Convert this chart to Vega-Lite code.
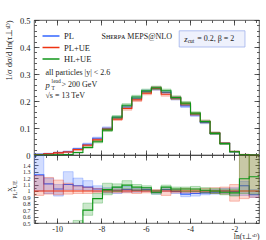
{
"$schema": "https://vega.github.io/schema/vega-lite/v6.json",
"padding": {"left": 3, "top": 15, "right": 8, "bottom": 2},
"spacing": 0,
"bounds": "flush",
"config": {
  "view": {"stroke": "#333", "strokeWidth": 0.8},
  "font": "Liberation Serif",
  "axis": {"labelFont": "Liberation Serif", "titleFont": "Liberation Serif", "labelFontSize": 8.5, "titleFontSize": 8.5, "labelColor": "#222", "titleColor": "#222", "titleFontWeight": "normal", "grid": false, "domain": false, "tickColor": "#333", "tickWidth": 0.8, "labelOverlap": false, "labelBound": false}
},
"datasets": {
"main": [
{"s":"PL","a":-11.045,"b":-10.603,"v":0.003,"lo":0.001,"hi":0.005},
{"s":"PL","a":-10.603,"b":-10.162,"v":0.005,"lo":0.003,"hi":0.007},
{"s":"PL","a":-10.162,"b":-9.720,"v":0.009,"lo":0.007,"hi":0.011},
{"s":"PL","a":-9.720,"b":-9.278,"v":0.012,"lo":0.010,"hi":0.015},
{"s":"PL","a":-9.278,"b":-8.837,"v":0.023,"lo":0.020,"hi":0.026},
{"s":"PL","a":-8.837,"b":-8.395,"v":0.040,"lo":0.036,"hi":0.044},
{"s":"PL","a":-8.395,"b":-7.953,"v":0.062,"lo":0.058,"hi":0.066},
{"s":"PL","a":-7.953,"b":-7.512,"v":0.099,"lo":0.094,"hi":0.104},
{"s":"PL","a":-7.512,"b":-7.070,"v":0.138,"lo":0.133,"hi":0.143},
{"s":"PL","a":-7.070,"b":-6.629,"v":0.178,"lo":0.172,"hi":0.184},
{"s":"PL","a":-6.629,"b":-6.187,"v":0.210,"lo":0.204,"hi":0.216},
{"s":"PL","a":-6.187,"b":-5.745,"v":0.235,"lo":0.229,"hi":0.241},
{"s":"PL","a":-5.745,"b":-5.304,"v":0.246,"lo":0.240,"hi":0.252},
{"s":"PL","a":-5.304,"b":-4.862,"v":0.232,"lo":0.226,"hi":0.238},
{"s":"PL","a":-4.862,"b":-4.420,"v":0.210,"lo":0.204,"hi":0.216},
{"s":"PL","a":-4.420,"b":-3.979,"v":0.182,"lo":0.176,"hi":0.188},
{"s":"PL","a":-3.979,"b":-3.537,"v":0.148,"lo":0.143,"hi":0.153},
{"s":"PL","a":-3.537,"b":-3.095,"v":0.121,"lo":0.116,"hi":0.126},
{"s":"PL","a":-3.095,"b":-2.654,"v":0.080,"lo":0.076,"hi":0.084},
{"s":"PL","a":-2.654,"b":-2.212,"v":0.043,"lo":0.040,"hi":0.046},
{"s":"PL","a":-2.212,"b":-1.770,"v":0.012,"lo":0.010,"hi":0.014},
{"s":"PL","a":-1.770,"b":-1.329,"v":0.001,"lo":0.000,"hi":0.002},
{"s":"PL","a":-1.329,"b":-0.887,"v":0.000,"lo":0.000,"hi":0.000},
{"s":"PL","a":-0.887,"v":0.000},
{"s":"PL+UE","a":-11.045,"b":-10.603,"v":0.002,"lo":0.001,"hi":0.003},
{"s":"PL+UE","a":-10.603,"b":-10.162,"v":0.004,"lo":0.003,"hi":0.005},
{"s":"PL+UE","a":-10.162,"b":-9.720,"v":0.008,"lo":0.006,"hi":0.010},
{"s":"PL+UE","a":-9.720,"b":-9.278,"v":0.011,"lo":0.009,"hi":0.013},
{"s":"PL+UE","a":-9.278,"b":-8.837,"v":0.020,"lo":0.018,"hi":0.022},
{"s":"PL+UE","a":-8.837,"b":-8.395,"v":0.036,"lo":0.033,"hi":0.039},
{"s":"PL+UE","a":-8.395,"b":-7.953,"v":0.056,"lo":0.052,"hi":0.060},
{"s":"PL+UE","a":-7.953,"b":-7.512,"v":0.095,"lo":0.090,"hi":0.100},
{"s":"PL+UE","a":-7.512,"b":-7.070,"v":0.133,"lo":0.128,"hi":0.138},
{"s":"PL+UE","a":-7.070,"b":-6.629,"v":0.172,"lo":0.166,"hi":0.178},
{"s":"PL+UE","a":-6.629,"b":-6.187,"v":0.204,"lo":0.198,"hi":0.210},
{"s":"PL+UE","a":-6.187,"b":-5.745,"v":0.229,"lo":0.223,"hi":0.235},
{"s":"PL+UE","a":-5.745,"b":-5.304,"v":0.247,"lo":0.241,"hi":0.253},
{"s":"PL+UE","a":-5.304,"b":-4.862,"v":0.225,"lo":0.218,"hi":0.232},
{"s":"PL+UE","a":-4.862,"b":-4.420,"v":0.211,"lo":0.205,"hi":0.217},
{"s":"PL+UE","a":-4.420,"b":-3.979,"v":0.189,"lo":0.183,"hi":0.195},
{"s":"PL+UE","a":-3.979,"b":-3.537,"v":0.152,"lo":0.147,"hi":0.157},
{"s":"PL+UE","a":-3.537,"b":-3.095,"v":0.124,"lo":0.119,"hi":0.129},
{"s":"PL+UE","a":-3.095,"b":-2.654,"v":0.081,"lo":0.077,"hi":0.085},
{"s":"PL+UE","a":-2.654,"b":-2.212,"v":0.043,"lo":0.040,"hi":0.046},
{"s":"PL+UE","a":-2.212,"b":-1.770,"v":0.013,"lo":0.011,"hi":0.015},
{"s":"PL+UE","a":-1.770,"b":-1.329,"v":0.002,"lo":0.001,"hi":0.003},
{"s":"PL+UE","a":-1.329,"b":-0.887,"v":0.000,"lo":0.000,"hi":0.000},
{"s":"PL+UE","a":-0.887,"v":0.000},
{"s":"HL+UE","a":-11.045,"b":-10.603,"v":0.000,"lo":0.000,"hi":0.000},
{"s":"HL+UE","a":-10.603,"b":-10.162,"v":0.000,"lo":0.000,"hi":0.000},
{"s":"HL+UE","a":-10.162,"b":-9.720,"v":0.001,"lo":0.000,"hi":0.002},
{"s":"HL+UE","a":-9.720,"b":-9.278,"v":0.002,"lo":0.001,"hi":0.003},
{"s":"HL+UE","a":-9.278,"b":-8.837,"v":0.009,"lo":0.007,"hi":0.011},
{"s":"HL+UE","a":-8.837,"b":-8.395,"v":0.028,"lo":0.025,"hi":0.031},
{"s":"HL+UE","a":-8.395,"b":-7.953,"v":0.049,"lo":0.045,"hi":0.053},
{"s":"HL+UE","a":-7.953,"b":-7.512,"v":0.092,"lo":0.087,"hi":0.097},
{"s":"HL+UE","a":-7.512,"b":-7.070,"v":0.141,"lo":0.136,"hi":0.146},
{"s":"HL+UE","a":-7.070,"b":-6.629,"v":0.184,"lo":0.178,"hi":0.190},
{"s":"HL+UE","a":-6.629,"b":-6.187,"v":0.215,"lo":0.209,"hi":0.221},
{"s":"HL+UE","a":-6.187,"b":-5.745,"v":0.238,"lo":0.232,"hi":0.244},
{"s":"HL+UE","a":-5.745,"b":-5.304,"v":0.249,"lo":0.243,"hi":0.255},
{"s":"HL+UE","a":-5.304,"b":-4.862,"v":0.238,"lo":0.232,"hi":0.244},
{"s":"HL+UE","a":-4.862,"b":-4.420,"v":0.213,"lo":0.207,"hi":0.219},
{"s":"HL+UE","a":-4.420,"b":-3.979,"v":0.192,"lo":0.186,"hi":0.198},
{"s":"HL+UE","a":-3.979,"b":-3.537,"v":0.155,"lo":0.150,"hi":0.160},
{"s":"HL+UE","a":-3.537,"b":-3.095,"v":0.124,"lo":0.119,"hi":0.129},
{"s":"HL+UE","a":-3.095,"b":-2.654,"v":0.080,"lo":0.076,"hi":0.084},
{"s":"HL+UE","a":-2.654,"b":-2.212,"v":0.042,"lo":0.039,"hi":0.045},
{"s":"HL+UE","a":-2.212,"b":-1.770,"v":0.012,"lo":0.010,"hi":0.014},
{"s":"HL+UE","a":-1.770,"b":-1.329,"v":0.001,"lo":0.000,"hi":0.002},
{"s":"HL+UE","a":-1.329,"b":-0.887,"v":0.000,"lo":0.000,"hi":0.000},
{"s":"HL+UE","a":-0.887,"v":0.000}
],
"ratio": [
{"s":"PL","a":-11.045,"b":-10.603,"v":1.25,"lo":1.0,"hi":1.7},
{"s":"PL","a":-10.603,"b":-10.162,"v":1.11,"lo":0.96,"hi":1.2},
{"s":"PL","a":-10.162,"b":-9.720,"v":1.03,"lo":0.92,"hi":1.1},
{"s":"PL","a":-9.720,"b":-9.278,"v":1.1,"lo":1.02,"hi":1.3},
{"s":"PL","a":-9.278,"b":-8.837,"v":1.08,"lo":1.02,"hi":1.2},
{"s":"PL","a":-8.837,"b":-8.395,"v":1.06,"lo":1.01,"hi":1.16},
{"s":"PL","a":-8.395,"b":-7.953,"v":1.03,"lo":0.99,"hi":1.08},
{"s":"PL","a":-7.953,"b":-7.512,"v":1.01,"lo":0.97,"hi":1.05},
{"s":"PL","a":-7.512,"b":-7.070,"v":1.01,"lo":0.96,"hi":1.06},
{"s":"PL","a":-7.070,"b":-6.629,"v":1.02,"lo":0.98,"hi":1.07},
{"s":"PL","a":-6.629,"b":-6.187,"v":1.01,"lo":0.98,"hi":1.04},
{"s":"PL","a":-6.187,"b":-5.745,"v":1.02,"lo":0.99,"hi":1.05},
{"s":"PL","a":-5.745,"b":-5.304,"v":0.98,"lo":0.95,"hi":1.01},
{"s":"PL","a":-5.304,"b":-4.862,"v":1.02,"lo":0.99,"hi":1.05},
{"s":"PL","a":-4.862,"b":-4.420,"v":0.99,"lo":0.96,"hi":1.02},
{"s":"PL","a":-4.420,"b":-3.979,"v":0.95,"lo":0.91,"hi":0.98},
{"s":"PL","a":-3.979,"b":-3.537,"v":0.96,"lo":0.92,"hi":0.99},
{"s":"PL","a":-3.537,"b":-3.095,"v":0.97,"lo":0.94,"hi":1.0},
{"s":"PL","a":-3.095,"b":-2.654,"v":0.98,"lo":0.95,"hi":1.02},
{"s":"PL","a":-2.654,"b":-2.212,"v":1.0,"lo":0.96,"hi":1.04},
{"s":"PL","a":-2.212,"b":-1.770,"v":0.99,"lo":0.93,"hi":1.05},
{"s":"PL","a":-1.770,"b":-1.329,"v":1.08,"lo":0.93,"hi":1.15},
{"s":"PL","a":-1.329,"b":-0.887,"v":0.94,"lo":0.9,"hi":1.02},
{"s":"PL","a":-0.887,"v":0.94},
{"s":"PL+UE","a":-11.045,"b":-10.603,"v":1,"lo":0.93,"hi":1.24},
{"s":"PL+UE","a":-10.603,"b":-10.162,"v":1,"lo":0.95,"hi":1.21},
{"s":"PL+UE","a":-10.162,"b":-9.720,"v":1,"lo":0.94,"hi":1.17},
{"s":"PL+UE","a":-9.720,"b":-9.278,"v":1,"lo":0.95,"hi":1.12},
{"s":"PL+UE","a":-9.278,"b":-8.837,"v":1,"lo":0.96,"hi":1.08},
{"s":"PL+UE","a":-8.837,"b":-8.395,"v":1,"lo":0.96,"hi":1.06},
{"s":"PL+UE","a":-8.395,"b":-7.953,"v":1,"lo":0.97,"hi":1.04},
{"s":"PL+UE","a":-7.953,"b":-7.512,"v":1,"lo":0.97,"hi":1.03},
{"s":"PL+UE","a":-7.512,"b":-7.070,"v":1,"lo":0.97,"hi":1.03},
{"s":"PL+UE","a":-7.070,"b":-6.629,"v":1,"lo":0.97,"hi":1.03},
{"s":"PL+UE","a":-6.629,"b":-6.187,"v":1,"lo":0.96,"hi":1.03},
{"s":"PL+UE","a":-6.187,"b":-5.745,"v":1,"lo":0.97,"hi":1.03},
{"s":"PL+UE","a":-5.745,"b":-5.304,"v":1,"lo":0.97,"hi":1.02},
{"s":"PL+UE","a":-5.304,"b":-4.862,"v":1,"lo":0.93,"hi":1.03},
{"s":"PL+UE","a":-4.862,"b":-4.420,"v":1,"lo":0.97,"hi":1.03},
{"s":"PL+UE","a":-4.420,"b":-3.979,"v":1,"lo":0.97,"hi":1.04},
{"s":"PL+UE","a":-3.979,"b":-3.537,"v":1,"lo":0.97,"hi":1.03},
{"s":"PL+UE","a":-3.537,"b":-3.095,"v":1,"lo":0.97,"hi":1.04},
{"s":"PL+UE","a":-3.095,"b":-2.654,"v":1,"lo":0.96,"hi":1.05},
{"s":"PL+UE","a":-2.654,"b":-2.212,"v":1,"lo":0.95,"hi":1.06},
{"s":"PL+UE","a":-2.212,"b":-1.770,"v":1,"lo":0.84,"hi":1.1},
{"s":"PL+UE","a":-1.770,"b":-1.329,"v":1,"lo":0.88,"hi":1.7},
{"s":"PL+UE","a":-1.329,"b":-0.887,"v":1,"lo":0.9,"hi":1.7},
{"s":"PL+UE","a":-0.887,"v":1},
{"s":"HL+UE","a":-11.045,"b":-10.603,"v":0},
{"s":"HL+UE","a":-10.603,"b":-10.162,"v":0},
{"s":"HL+UE","a":-10.162,"b":-9.720,"v":0},
{"s":"HL+UE","a":-9.720,"b":-9.278,"v":0},
{"s":"HL+UE","a":-9.278,"b":-8.837,"v":0.47,"lo":0.4,"hi":0.54},
{"s":"HL+UE","a":-8.837,"b":-8.395,"v":0.7,"lo":0.62,"hi":0.81},
{"s":"HL+UE","a":-8.395,"b":-7.953,"v":0.88,"lo":0.81,"hi":0.96},
{"s":"HL+UE","a":-7.953,"b":-7.512,"v":1.02,"lo":0.94,"hi":1.12},
{"s":"HL+UE","a":-7.512,"b":-7.070,"v":1.06,"lo":0.99,"hi":1.11},
{"s":"HL+UE","a":-7.070,"b":-6.629,"v":1.09,"lo":1.03,"hi":1.16},
{"s":"HL+UE","a":-6.629,"b":-6.187,"v":1.06,"lo":1.01,"hi":1.1},
{"s":"HL+UE","a":-6.187,"b":-5.745,"v":1.05,"lo":1.01,"hi":1.08},
{"s":"HL+UE","a":-5.745,"b":-5.304,"v":0.98,"lo":0.95,"hi":1.01},
{"s":"HL+UE","a":-5.304,"b":-4.862,"v":1.06,"lo":1.02,"hi":1.09},
{"s":"HL+UE","a":-4.862,"b":-4.420,"v":1.03,"lo":1.0,"hi":1.06},
{"s":"HL+UE","a":-4.420,"b":-3.979,"v":1.03,"lo":0.99,"hi":1.06},
{"s":"HL+UE","a":-3.979,"b":-3.537,"v":1.03,"lo":0.99,"hi":1.07},
{"s":"HL+UE","a":-3.537,"b":-3.095,"v":1.01,"lo":0.97,"hi":1.05},
{"s":"HL+UE","a":-3.095,"b":-2.654,"v":1.0,"lo":0.96,"hi":1.04},
{"s":"HL+UE","a":-2.654,"b":-2.212,"v":0.98,"lo":0.94,"hi":1.03},
{"s":"HL+UE","a":-2.212,"b":-1.770,"v":0.97,"lo":0.92,"hi":1.03},
{"s":"HL+UE","a":-1.770,"b":-1.329,"v":1.19,"lo":0.96,"hi":1.7},
{"s":"HL+UE","a":-1.329,"b":-0.887,"v":1.22,"lo":0.95,"hi":1.7},
{"s":"HL+UE","a":-0.887,"v":1.22}
]
},
"vconcat": [
{
  "width": 225, "height": 135,
  "data": {"name": "main"},
  "resolve": {"axis": {"x": "independent", "y": "independent"}},
  "layer": [
    {"transform": [{"filter": "datum.s==='PL' && isValid(datum.b)"}],
     "mark": {"type": "rect", "fill": "#3366ff", "stroke": "#3366ff", "fillOpacity": 0.22, "strokeOpacity": 0.4, "strokeWidth": 0.7},
     "encoding": {
       "x": {"field": "a", "type": "quantitative", "scale": {"domain": [-11.045, -0.887], "nice": false, "zero": false}, "axis": {"orient": "bottom", "values": [-10,-8,-6,-4,-2], "tickSize": -5, "labels": false, "title": null}},
       "x2": {"field": "b"},
       "y": {"field": "lo", "type": "quantitative", "scale": {"domain": [0, 0.5], "nice": false}, "axis": {"orient": "left", "values": [0,0.1,0.2,0.3,0.4,0.5], "ticks": false, "format": ".1~f", "labelPadding": 4, "title": "1/σ dσ/d ln(τ⊥ˢᴰ)", "titleAnchor": "end", "titlePadding": 6}},
       "y2": {"field": "hi"}
     }},
    {"transform": [{"filter": "datum.s==='PL'"}],
     "mark": {"type": "line", "interpolate": "step-after", "strokeWidth": 1.1},
     "encoding": {
       "x": {"field": "a", "type": "quantitative", "scale": {"domain": [-11.045, -0.887], "nice": false, "zero": false}, "axis": {"orient": "bottom", "values": [-11,-10.5,-10,-9.5,-9,-8.5,-8,-7.5,-7,-6.5,-6,-5.5,-5,-4.5,-4,-3.5,-3,-2.5,-2,-1.5,-1], "tickSize": -2.5, "labels": false, "title": null}},
       "y": {"field": "v", "type": "quantitative", "scale": {"domain": [0, 0.5], "nice": false}, "axis": {"orient": "left", "values": [0,0.1,0.2,0.3,0.4,0.5], "tickSize": -5, "labels": false, "title": null}},
       "color": {"field": "s", "type": "nominal", "scale": {"domain": ["PL","PL+UE","HL+UE"], "range": ["#3366ff","#ee3311","#109618"]}, "legend": {"orient": "none", "legendX": 12, "legendY": 11, "title": null, "symbolType": "M-2,0H2", "symbolSize": 72, "symbolStrokeWidth": 1.5, "labelFont": "Liberation Serif", "labelFontSize": 8.5, "labelColor": "#222", "rowPadding": 1.5, "labelOffset": 8}}
     }},
    {"transform": [{"filter": "datum.s==='PL+UE' && isValid(datum.b)"}],
     "mark": {"type": "rect", "fill": "#ee3311", "stroke": "#ee3311", "fillOpacity": 0.2, "strokeOpacity": 0.4, "strokeWidth": 0.7},
     "encoding": {
       "x": {"field": "a", "type": "quantitative", "scale": {"domain": [-11.045, -0.887], "nice": false, "zero": false}, "axis": {"orient": "top", "values": [-10,-8,-6,-4,-2], "tickSize": -5, "labels": false, "title": null}},
       "x2": {"field": "b"},
       "y": {"field": "lo", "type": "quantitative", "scale": {"domain": [0, 0.5], "nice": false}, "axis": {"orient": "left", "values": [0,0.02,0.04,0.06,0.08,0.1,0.12,0.14,0.16,0.18,0.2,0.22,0.24,0.26,0.28,0.3,0.32,0.34,0.36,0.38,0.4,0.42,0.44,0.46,0.48,0.5], "tickSize": -2.5, "labels": false, "title": null}},
       "y2": {"field": "hi"}
     }},
    {"transform": [{"filter": "datum.s==='PL+UE'"}],
     "mark": {"type": "line", "interpolate": "step-after", "strokeWidth": 1.1},
     "encoding": {
       "x": {"field": "a", "type": "quantitative", "scale": {"domain": [-11.045, -0.887], "nice": false, "zero": false}, "axis": {"orient": "top", "values": [-11,-10.5,-10,-9.5,-9,-8.5,-8,-7.5,-7,-6.5,-6,-5.5,-5,-4.5,-4,-3.5,-3,-2.5,-2,-1.5,-1], "tickSize": -2.5, "labels": false, "title": null}},
       "y": {"field": "v", "type": "quantitative", "scale": {"domain": [0, 0.5], "nice": false}, "axis": {"orient": "right", "values": [0,0.1,0.2,0.3,0.4,0.5], "tickSize": -5, "labels": false, "title": null}},
       "color": {"field": "s", "type": "nominal", "scale": {"domain": ["PL","PL+UE","HL+UE"], "range": ["#3366ff","#ee3311","#109618"]}, "legend": {"orient": "none", "legendX": 12, "legendY": 11, "title": null, "symbolType": "M-2,0H2", "symbolSize": 72, "symbolStrokeWidth": 1.5, "labelFont": "Liberation Serif", "labelFontSize": 8.5, "labelColor": "#222", "rowPadding": 1.5, "labelOffset": 8}}
     }},
    {"transform": [{"filter": "datum.s==='HL+UE' && isValid(datum.b)"}],
     "mark": {"type": "rect", "fill": "#109618", "stroke": "#109618", "fillOpacity": 0.22, "strokeOpacity": 0.4, "strokeWidth": 0.7},
     "encoding": {
       "x": {"field": "a", "type": "quantitative", "scale": {"domain": [-11.045, -0.887], "nice": false, "zero": false}, "axis": null},
       "x2": {"field": "b"},
       "y": {"field": "lo", "type": "quantitative", "scale": {"domain": [0, 0.5], "nice": false}, "axis": {"orient": "right", "values": [0,0.02,0.04,0.06,0.08,0.1,0.12,0.14,0.16,0.18,0.2,0.22,0.24,0.26,0.28,0.3,0.32,0.34,0.36,0.38,0.4,0.42,0.44,0.46,0.48,0.5], "tickSize": -2.5, "labels": false, "title": null}},
       "y2": {"field": "hi"}
     }},
    {"transform": [{"filter": "datum.s==='HL+UE'"}],
     "mark": {"type": "line", "interpolate": "step-after", "strokeWidth": 1.1},
     "encoding": {
       "x": {"field": "a", "type": "quantitative", "scale": {"domain": [-11.045, -0.887], "nice": false, "zero": false}, "axis": null},
       "y": {"field": "v", "type": "quantitative", "scale": {"domain": [0, 0.5], "nice": false}, "axis": null},
       "color": {"field": "s", "type": "nominal", "scale": {"domain": ["PL","PL+UE","HL+UE"], "range": ["#3366ff","#ee3311","#109618"]}, "legend": {"orient": "none", "legendX": 12, "legendY": 11, "title": null, "symbolType": "M-2,0H2", "symbolSize": 72, "symbolStrokeWidth": 1.5, "labelFont": "Liberation Serif", "labelFontSize": 8.5, "labelColor": "#222", "rowPadding": 1.5, "labelOffset": 8}}
     }},
    {"data": {"values": [{"x1": -4.49, "x2": -1.52, "y1": 0.40, "y2": 0.46}]},
     "mark": {"type": "rect", "fill": "#eef1fc", "stroke": "#9fb1ec", "strokeWidth": 0.8},
     "encoding": {
       "x": {"field": "x1", "type": "quantitative", "scale": {"domain": [-11.045, -0.887], "nice": false, "zero": false}, "axis": null},
       "x2": {"field": "x2"},
       "y": {"field": "y1", "type": "quantitative", "scale": {"domain": [0, 0.5], "nice": false}, "axis": null},
       "y2": {"field": "y2"}
     }},
    {"data": {"values": [
       {"x": -8.0, "y": 0.437, "t": "Sʜᴇʀᴘᴀ MEPS@NLO"},
       {"x": -3.68, "y": 0.431, "t": "= 0.2, β = 2"},
       {"x": -10.527, "y": 0.303, "t": "all particles |y| < 2.6"},
       {"x": -9.80, "y": 0.259, "t": "> 200 GeV"},
       {"x": -10.527, "y": 0.220, "t": "√s = 13 TeV"}
     ]},
     "mark": {"type": "text", "align": "left", "baseline": "middle", "font": "Liberation Serif", "fontSize": 8, "color": "#222"},
     "encoding": {
       "x": {"field": "x", "type": "quantitative", "scale": {"domain": [-11.045, -0.887], "nice": false, "zero": false}, "axis": null},
       "y": {"field": "y", "type": "quantitative", "scale": {"domain": [0, 0.5], "nice": false}, "axis": null},
       "text": {"field": "t"}
     }},
    {"data": {"values": [
       {"x": -4.265, "y": 0.431, "t": "z"},
       {"x": -10.527, "y": 0.259, "t": "p"}
     ]},
     "mark": {"type": "text", "align": "left", "baseline": "middle", "font": "Liberation Serif", "fontSize": 8.5, "fontStyle": "italic", "color": "#222"},
     "encoding": {
       "x": {"field": "x", "type": "quantitative", "scale": {"domain": [-11.045, -0.887], "nice": false, "zero": false}, "axis": null},
       "y": {"field": "y", "type": "quantitative", "scale": {"domain": [0, 0.5], "nice": false}, "axis": null},
       "text": {"field": "t"}
     }},
    {"data": {"values": [
       {"x": -4.108, "y": 0.424, "t": "cut"},
       {"x": -10.25, "y": 0.274, "t": "lead"},
       {"x": -10.25, "y": 0.249, "t": "T"}
     ]},
     "mark": {"type": "text", "align": "left", "baseline": "middle", "font": "Liberation Serif", "fontSize": 5.5, "color": "#222"},
     "encoding": {
       "x": {"field": "x", "type": "quantitative", "scale": {"domain": [-11.045, -0.887], "nice": false, "zero": false}, "axis": null},
       "y": {"field": "y", "type": "quantitative", "scale": {"domain": [0, 0.5], "nice": false}, "axis": null},
       "text": {"field": "t"}
     }}
  ]
},
{
  "width": 225, "height": 68,
  "data": {"name": "ratio"},
  "resolve": {"axis": {"x": "independent", "y": "independent"}},
  "layer": [
    {"transform": [{"filter": "datum.s==='PL' && isValid(datum.b) && isValid(datum.lo)"}],
     "mark": {"type": "rect", "fill": "#3366ff", "stroke": "#3366ff", "fillOpacity": 0.22, "strokeOpacity": 0.4, "strokeWidth": 0.7, "clip": true},
     "encoding": {
       "x": {"field": "a", "type": "quantitative", "scale": {"domain": [-11.045, -0.887], "nice": false, "zero": false}, "axis": {"orient": "bottom", "values": [-10,-8,-6,-4,-2], "ticks": false, "labelPadding": 2, "labelFontSize": 8, "labelExpr": "'-' + abs(datum.value)", "title": "ln(τ⊥ˢᴰ)", "titleFontSize": 7.5, "titleX": 225, "titleY": 9.5, "titleAlign": "right", "titleBaseline": "top", "titleAnchor": "end"}},
       "x2": {"field": "b"},
       "y": {"field": "lo", "type": "quantitative", "scale": {"domain": [0.5, 1.56], "nice": false, "zero": false}, "axis": {"orient": "left", "values": [0.5,0.6,0.7,0.8,0.9,1,1.1,1.2,1.3,1.4], "ticks": false, "format": ".1~f", "labelPadding": 4, "labelFontSize": 6, "title": ["X", "PL+UE"], "titleFontSize": 6, "titleLineHeight": 5.5, "titleX": -25, "titleY": 34, "titleAngle": -90, "titleAlign": "center", "titleBaseline": "middle"}},
       "y2": {"field": "hi"}
     }},
    {"transform": [{"filter": "datum.s==='PL'"}],
     "mark": {"type": "line", "interpolate": "step-after", "strokeWidth": 1.1, "clip": true, "color": "#3366ff"},
     "encoding": {
       "x": {"field": "a", "type": "quantitative", "scale": {"domain": [-11.045, -0.887], "nice": false, "zero": false}, "axis": {"orient": "bottom", "values": [-10,-8,-6,-4,-2], "tickSize": -5, "labels": false, "title": null}},
       "y": {"field": "v", "type": "quantitative", "scale": {"domain": [0.5, 1.56], "nice": false, "zero": false}, "axis": {"orient": "left", "values": [0.5,0.6,0.7,0.8,0.9,1,1.1,1.2,1.3,1.4,1.5], "tickSize": -4, "labels": false, "title": null}}
     }},
    {"transform": [{"filter": "datum.s==='PL+UE' && isValid(datum.b) && isValid(datum.lo)"}],
     "mark": {"type": "rect", "fill": "#ee3311", "stroke": "#ee3311", "fillOpacity": 0.2, "strokeOpacity": 0.4, "strokeWidth": 0.7, "clip": true},
     "encoding": {
       "x": {"field": "a", "type": "quantitative", "scale": {"domain": [-11.045, -0.887], "nice": false, "zero": false}, "axis": {"orient": "bottom", "values": [-11,-10.5,-10,-9.5,-9,-8.5,-8,-7.5,-7,-6.5,-6,-5.5,-5,-4.5,-4,-3.5,-3,-2.5,-2,-1.5,-1], "tickSize": -2.5, "labels": false, "title": null}},
       "x2": {"field": "b"},
       "y": {"field": "lo", "type": "quantitative", "scale": {"domain": [0.5, 1.56], "nice": false, "zero": false}, "axis": {"orient": "left", "values": [0.55,0.65,0.75,0.85,0.95,1.05,1.15,1.25,1.35,1.45,1.55], "tickSize": -2, "labels": false, "title": null}},
       "y2": {"field": "hi"}
     }},
    {"transform": [{"filter": "datum.s==='PL+UE'"}],
     "mark": {"type": "line", "interpolate": "step-after", "strokeWidth": 1.1, "clip": true, "color": "#ee3311"},
     "encoding": {
       "x": {"field": "a", "type": "quantitative", "scale": {"domain": [-11.045, -0.887], "nice": false, "zero": false}, "axis": {"orient": "top", "values": [-10,-8,-6,-4,-2], "tickSize": -5, "labels": false, "title": null}},
       "y": {"field": "v", "type": "quantitative", "scale": {"domain": [0.5, 1.56], "nice": false, "zero": false}, "axis": {"orient": "right", "values": [0.5,0.6,0.7,0.8,0.9,1,1.1,1.2,1.3,1.4,1.5], "tickSize": -4, "labels": false, "title": null}}
     }},
    {"transform": [{"filter": "datum.s==='HL+UE' && isValid(datum.b) && isValid(datum.lo)"}],
     "mark": {"type": "rect", "fill": "#109618", "stroke": "#109618", "fillOpacity": 0.22, "strokeOpacity": 0.4, "strokeWidth": 0.7, "clip": true},
     "encoding": {
       "x": {"field": "a", "type": "quantitative", "scale": {"domain": [-11.045, -0.887], "nice": false, "zero": false}, "axis": {"orient": "top", "values": [-11,-10.5,-10,-9.5,-9,-8.5,-8,-7.5,-7,-6.5,-6,-5.5,-5,-4.5,-4,-3.5,-3,-2.5,-2,-1.5,-1], "tickSize": -2.5, "labels": false, "title": null}},
       "x2": {"field": "b"},
       "y": {"field": "lo", "type": "quantitative", "scale": {"domain": [0.5, 1.56], "nice": false, "zero": false}, "axis": {"orient": "right", "values": [0.55,0.65,0.75,0.85,0.95,1.05,1.15,1.25,1.35,1.45,1.55], "tickSize": -2, "labels": false, "title": null}},
       "y2": {"field": "hi"}
     }},
    {"transform": [{"filter": "datum.s==='HL+UE'"}],
     "mark": {"type": "line", "interpolate": "step-after", "strokeWidth": 1.1, "clip": true, "color": "#109618"},
     "encoding": {
       "x": {"field": "a", "type": "quantitative", "scale": {"domain": [-11.045, -0.887], "nice": false, "zero": false}, "axis": null},
       "y": {"field": "v", "type": "quantitative", "scale": {"domain": [0.5, 1.56], "nice": false, "zero": false}, "axis": null}
     }}
  ]
}
]
}
